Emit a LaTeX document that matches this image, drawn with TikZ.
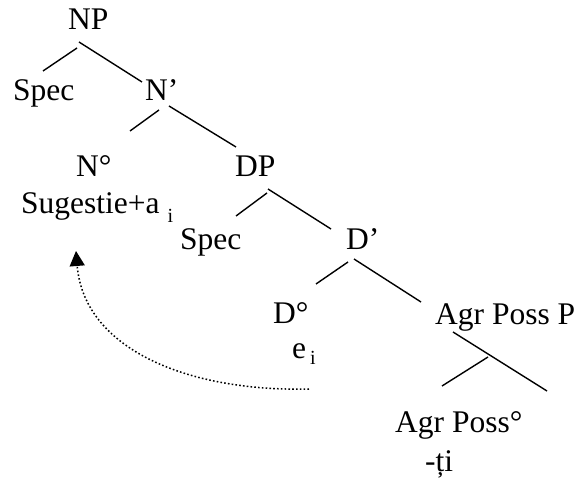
\documentclass[tikz,border=0pt]{standalone}
\usepackage{fontspec}
\setmainfont{Liberation Serif}
\usetikzlibrary{arrows.meta}
\newcommand\trsub[2]{\raisebox{-#1}{\fontsize{20}{20}\selectfont #2}}
\begin{document}
\begin{tikzpicture}[x=1pt,y=-1pt,
  lbl/.style={anchor=base west,inner sep=0pt,font=\fontsize{31.5}{36}\selectfont},
  branch/.style={line width=1.4pt},
  movearrow/.style={line width=1.5pt,dash pattern=on 1.6pt off 2.2pt,
    -{Triangle[length=15pt,width=15pt]}}]
\useasboundingbox (0,0) rectangle (579,478);
% labels
\node[lbl] (NP)   at (68,30)  {NP};
\node[lbl] (SpecA) at (13,101) {Spec};
\node[lbl] (Nbar) at (145,101) {N’};
\node[lbl] (N0)   at (76,177) {N°};
\node[lbl] (DP)   at (235,177) {DP};
\node[lbl] (Sug)  at (21,214) {Sugestie+a\hspace{8pt}\trsub{9pt}{i}};
\node[lbl] (SpecB) at (180,250) {Spec};
\node[lbl] (Dbar) at (346,250) {D’};
\node[lbl] (D0)   at (273,324) {D°};
\node[lbl] (ei)   at (292,359) {e\hspace{4pt}\trsub{6pt}{i}};
\node[lbl] (AgrP) at (435,325) {Agr Poss P};
\node[lbl] (Agr0) at (395,433) {Agr Poss°};
\node[lbl] (ti)   at (425,472) {-ți};
% branch end points
\coordinate (np1) at (77,48);   \coordinate (np2) at (43,71);
\coordinate (np3) at (79,42);   \coordinate (np4) at (142,82);
\coordinate (nb1) at (159,110); \coordinate (nb2) at (130,131);
\coordinate (nb3) at (169,106); \coordinate (nb4) at (236,147);
\coordinate (dp1) at (267,193); \coordinate (dp2) at (236,216);
\coordinate (dp3) at (268,189); \coordinate (dp4) at (331,229);
\coordinate (db1) at (348,262); \coordinate (db2) at (316,284);
\coordinate (db3) at (354,259); \coordinate (db4) at (421,302);
\coordinate (ag1) at (453,332); \coordinate (ag2) at (547,391);
\coordinate (ag3) at (488,357); \coordinate (ag4) at (442,386);
\draw[branch] (np1) -- (np2);
\draw[branch] (np3) -- (np4);
\draw[branch] (nb1) -- (nb2);
\draw[branch] (nb3) -- (nb4);
\draw[branch] (dp1) -- (dp2);
\draw[branch] (dp3) -- (dp4);
\draw[branch] (db1) -- (db2);
\draw[branch] (db3) -- (db4);
\draw[branch] (ag1) -- (ag2);
\draw[branch] (ag3) -- (ag4);
% movement arrow
\coordinate (mvs) at (309,389);
\coordinate (mvt) at (76,251);
\draw[movearrow] (mvs) .. controls (190,392) and (84,350) .. (mvt);
\end{tikzpicture}
\end{document}
